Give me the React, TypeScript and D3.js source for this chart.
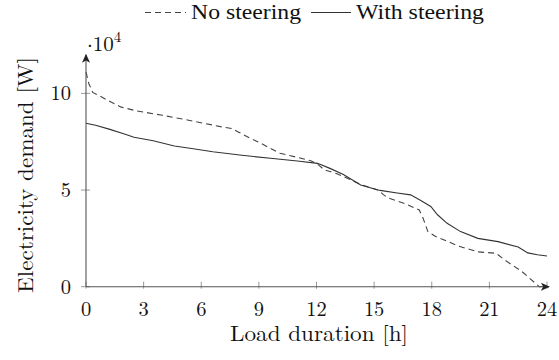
import React from "react";
import * as d3 from "d3";

// Load duration curves (hours sorted by demand), values in 10^4 W
const hoursNoSteering = [0, 0.15, 0.35, 0.75, 1.2, 1.8, 2.6, 3.9, 5.4, 7.0, 7.6, 7.9, 8.5, 9.1, 9.6, 10.1, 11.0, 11.7, 12.1, 12.4, 13.1, 13.8, 14.4, 15.2, 15.5, 15.7, 16.6, 17.35, 17.55, 17.8, 18.2, 19.4, 20.4, 21.35, 21.8, 22.7, 23.6, 24];
const demandNoSteering = [11.1, 10.5, 10.05, 9.85, 9.6, 9.3, 9.1, 8.88, 8.6, 8.28, 8.18, 8.02, 7.7, 7.42, 7.15, 6.9, 6.69, 6.52, 6.3, 6.05, 5.83, 5.52, 5.25, 5.0, 4.75, 4.6, 4.3, 3.97, 3.54, 2.85, 2.6, 2.1, 1.8, 1.73, 1.38, 0.78, 0.0, 0.0];

const hoursWithSteering = [0, 0.5, 1.2, 2.0, 2.5, 3.5, 4.6, 5.5, 6.6, 8.0, 9.6, 11.0, 12.05, 12.7, 13.4, 14.3, 15.2, 15.4, 16.2, 16.9, 17.45, 17.95, 18.3, 18.8, 19.5, 20.4, 21.45, 22.5, 23.0, 23.5, 24];
const demandWithSteering = [8.45, 8.35, 8.15, 7.9, 7.73, 7.55, 7.28, 7.15, 6.98, 6.81, 6.64, 6.5, 6.38, 6.12, 5.8, 5.26, 5.0, 4.97, 4.85, 4.75, 4.45, 4.15, 3.72, 3.28, 2.85, 2.5, 2.33, 2.05, 1.75, 1.65, 1.59];

const xTicks = [0, 3, 6, 9, 12, 15, 18, 21, 24];
const yTicks = [0, 5, 10];
const seriesNames = ["No steering", "With steering"];

const W = 559;
const H = 360;
const SERIF = { fontFamily: '"Latin Modern Roman"' };
const MATH = { fontFamily: '"Latin Modern Math"' };
const LEGEND_FONT = { fontFamily: '"Liberation Serif"' };

export default function App() {
  const x = d3.scaleLinear().domain([0, 24]).range([86, 547]);
  const y = d3.scaleLinear().domain([0, 12]).range([286.7, 54.7]);

  const line = d3
    .line<[number, number]>()
    .x((d) => x(d[0]))
    .y((d) => y(d[1]));

  const noSteer: [number, number][] = hoursNoSteering.map((h, i) => [h, demandNoSteering[i]]);
  const withSteer: [number, number][] = hoursWithSteering.map((h, i) => [h, demandWithSteering[i]]);

  const axisColor = "#555";
  const tickColor = "#999";
  const x0 = x(0);
  const y0 = y(0);
  const xEnd = x(24) + 2;
  const yEnd = y(12);

  return (
    <div style={{ position: "fixed", left: 0, top: 0 }}>
      <svg width={W} height={H} viewBox={`0 0 ${W} ${H}`} style={{ display: "block", background: "#fff" }}>
        <defs>
          <marker id="arrow" viewBox="0 0 10 10" refX="9" refY="5" markerWidth="9" markerHeight="9" markerUnits="userSpaceOnUse" orient="auto">
            <path d="M0,0.5 L10,5 L0,9.5 L2.5,5 Z" fill="#222" />
          </marker>
        </defs>

        {/* legend */}
        <g fontSize={21} fill="#111">
          <line x1={145} x2={186} y1={12.5} y2={12.5} stroke="#444" strokeWidth={1.1} strokeDasharray="6,4" />
          <text x={191} y={19} style={LEGEND_FONT} textLength={110} lengthAdjust="spacingAndGlyphs">{seriesNames[0]}</text>
          <line x1={311} x2={351} y1={12.5} y2={12.5} stroke="#333" strokeWidth={1.1} />
          <text x={356} y={19} style={LEGEND_FONT} textLength={128} lengthAdjust="spacingAndGlyphs">{seriesNames[1]}</text>
        </g>

        {/* ticks */}
        {xTicks.map((t) => (
          <line key={"xt" + t} x1={x(t)} x2={x(t)} y1={y0 - 5} y2={y0 + 2} stroke={tickColor} strokeWidth={1} />
        ))}
        {yTicks.map((t) => (
          <line key={"yt" + t} x1={x0 - 5} x2={x0 + 4} y1={y(t)} y2={y(t)} stroke={tickColor} strokeWidth={1} />
        ))}

        {/* curves */}
        <path d={line(noSteer) || ""} fill="none" stroke="#444" strokeWidth={1.1} strokeDasharray="6,4" />
        <path d={line(withSteer) || ""} fill="none" stroke="#333" strokeWidth={1.1} />

        {/* axes */}
        <line x1={x0} x2={xEnd} y1={y0} y2={y0} stroke={axisColor} strokeWidth={1.1} markerEnd="url(#arrow)" />
        <line x1={x0} x2={x0} y1={y0} y2={yEnd} stroke={axisColor} strokeWidth={1.1} markerEnd="url(#arrow)" />

        {/* tick labels */}
        <g fontSize={20.5} fill="#111">
          {xTicks.map((t) => (
            <text key={"xl" + t} x={x(t)} y={315.5} textAnchor="middle" style={SERIF}>{t}</text>
          ))}
          {yTicks.map((t) => (
            <text key={"yl" + t} x={71} y={y(t) + 7} textAnchor="end" style={SERIF}>{t}</text>
          ))}
          <text x={87} y={51} fontSize={21} style={MATH}>
            ·10<tspan fontSize={15} dy={-9}>4</tspan>
          </text>
        </g>

        {/* axis titles */}
        <g fontSize={21.5} fill="#111">
          <text x={319} y={341} textAnchor="middle" style={SERIF} textLength={178} lengthAdjust="spacingAndGlyphs">Load duration [h]</text>
          <text transform={`translate(33,175) rotate(-90)`} textAnchor="middle" style={SERIF} textLength={236} lengthAdjust="spacingAndGlyphs">Electricity demand [W]</text>
        </g>
      </svg>
    </div>
  );
}
